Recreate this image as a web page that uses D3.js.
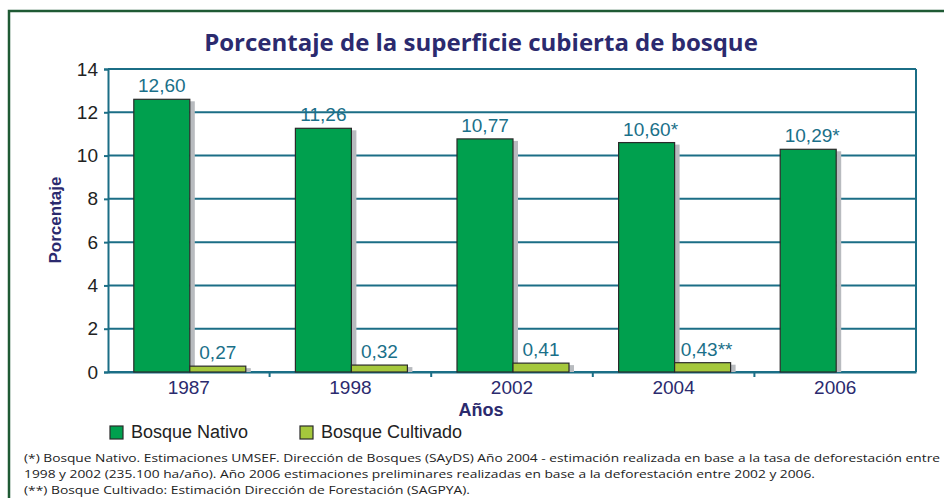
<!DOCTYPE html>
<html>
<head>
<meta charset="utf-8">
<script src="https://cdn.jsdelivr.net/npm/d3@7"></script>
<style>
  body { margin: 0; background: #fff; }
  svg { display: block; }
</style>
</head>
<body>
<div id="chart"></div>
<script>
// chart data
var years = ["1987", "1998", "2002", "2004", "2006"];
var nativo = [12.60, 11.26, 10.77, 10.60, 10.29];
var cultivado = [0.27, 0.32, 0.41, 0.43, null];
var nativoLabels = ["12,60", "11,26", "10,77", "10,60*", "10,29*"];
var cultivadoLabels = ["0,27", "0,32", "0,41", "0,43**", ""];
var yTicks = [0, 2, 4, 6, 8, 10, 12, 14];
var seriesNames = ["Bosque Nativo", "Bosque Cultivado"];
var notes = [
  "(*) Bosque Nativo. Estimaciones UMSEF. Dirección de Bosques (SAyDS) Año 2004 - estimación realizada en base a la tasa de deforestación entre",
  "1998 y 2002 (235.100 ha/año). Año 2006 estimaciones preliminares realizadas en base a la deforestación entre 2002 y 2006.",
  "(**) Bosque Cultivado: Estimación Dirección de Forestación (SAGPYA)."
];

var W = 944, H = 498;
var margin = {top: 69, right: 28, bottom: 126, left: 108};
var w = W - margin.left - margin.right;
var h = H - margin.top - margin.bottom;

var grid = "#1b6e86", navy = "#2b2a6e", teal = "#1a7089";
var colors = ["#00a04e", "#a5c83c"];

var svg = d3.select("#chart").append("svg")
  .attr("width", W).attr("height", H);

// outer frame
svg.append("rect")
  .attr("x", 9).attr("y", 11)
  .attr("width", W).attr("height", H)
  .attr("fill", "none").attr("stroke", "#1f5a34").attr("stroke-width", 2.5);

// title
svg.append("text")
  .attr("x", 481).attr("y", 51)
  .attr("text-anchor", "middle")
  .attr("font-family", "'Open Sans', sans-serif")
  .attr("font-weight", "bold")
  .attr("font-size", 24)
  .attr("fill", navy)
  .text("Porcentaje de la superficie cubierta de bosque");

var g = svg.append("g").attr("transform", "translate(" + margin.left + "," + margin.top + ")");

var x0 = d3.scaleBand().domain(years).range([0, w]);
var y = d3.scaleLinear().domain([0, 14]).range([h, 0]);
var barW = 56;

// gridlines
g.selectAll(".grid").data(yTicks).enter().append("line")
  .attr("x1", 0).attr("x2", w)
  .attr("y1", function(d) { return y(d); })
  .attr("y2", function(d) { return y(d); })
  .attr("stroke", grid).attr("stroke-width", 2);

// right border
g.append("line").attr("x1", w).attr("x2", w).attr("y1", 0).attr("y2", h)
  .attr("stroke", grid).attr("stroke-width", 2);

// y axis
var yAxis = g.append("g").call(d3.axisLeft(y).tickValues(yTicks).tickSize(4).tickPadding(6));
yAxis.select(".domain").attr("stroke", grid).attr("stroke-width", 2);
yAxis.selectAll(".tick line").attr("stroke", grid).attr("stroke-width", 2);
yAxis.selectAll("text")
  .attr("font-family", "Arial, 'Liberation Sans', sans-serif")
  .attr("font-size", 19).attr("fill", "#222");

// x axis
var xAxis = g.append("g").attr("transform", "translate(0," + h + ")")
  .call(d3.axisBottom(x0).tickSize(0).tickPadding(9));
xAxis.select(".domain").attr("stroke", grid).attr("stroke-width", 2);
xAxis.selectAll("text")
  .attr("font-family", "Arial, 'Liberation Sans', sans-serif")
  .attr("font-size", 19).attr("fill", navy);
// band boundary ticks
g.selectAll(".btick").data(years.slice(1)).enter().append("line")
  .attr("x1", function(d) { return x0(d); })
  .attr("x2", function(d) { return x0(d); })
  .attr("y1", h).attr("y2", h + 5)
  .attr("stroke", grid).attr("stroke-width", 2);

// bars
var series = [nativo, cultivado];
var labels = [nativoLabels, cultivadoLabels];
series.forEach(function(vals, s) {
  var items = years.map(function(yr, i) { return {year: yr, v: vals[i], label: labels[s][i]}; })
    .filter(function(d) { return d.v != null; });
  var bx = function(d) { return x0(d.year) + x0.bandwidth() / 2 - barW + s * barW + 1; };

  // shadow
  g.selectAll(".shadow" + s).data(items).enter().append("rect")
    .attr("x", function(d) { return bx(d) + barW; })
    .attr("y", function(d) { return y(d.v) + 2; })
    .attr("width", 5)
    .attr("height", function(d) { return h - y(d.v) - 2; })
    .attr("fill", "#b8bbbf");

  g.selectAll(".bar" + s).data(items).enter().append("rect")
    .attr("x", bx)
    .attr("y", function(d) { return y(d.v); })
    .attr("width", barW)
    .attr("height", function(d) { return h - y(d.v); })
    .attr("fill", colors[s]).attr("stroke", "#2a2a2a").attr("stroke-width", 1.2);

  g.selectAll(".lab" + s).data(items).enter().append("text")
    .attr("x", function(d) { return bx(d) + barW / 2 + (d.label.indexOf("*") > 0 ? 4 : 0); })
    .attr("y", function(d) { return y(d.v) - 7; })
    .attr("text-anchor", "middle")
    .attr("font-family", "Arial, 'Liberation Sans', sans-serif")
    .attr("font-size", 19).attr("fill", teal)
    .text(function(d) { return d.label; });
});

// axis titles
svg.append("text")
  .attr("x", 481).attr("y", 416)
  .attr("text-anchor", "middle")
  .attr("font-family", "Arial, 'Liberation Sans', sans-serif")
  .attr("font-weight", "bold").attr("font-size", 18)
  .attr("fill", navy).text("Años");

svg.append("text")
  .attr("transform", "translate(61,220) rotate(-90)")
  .attr("text-anchor", "middle")
  .attr("font-family", "Arial, 'Liberation Sans', sans-serif")
  .attr("font-weight", "bold").attr("font-size", 17)
  .attr("fill", navy).text("Porcentaje");

// legend
var legX = [110, 300];
var leg = svg.selectAll(".leg").data(seriesNames).enter().append("g")
  .attr("transform", function(d, i) { return "translate(" + legX[i] + ",426)"; });
leg.append("rect").attr("width", 13).attr("height", 13)
  .attr("fill", function(d, i) { return colors[i]; })
  .attr("stroke", "#2a2a2a").attr("stroke-width", 1.2);
leg.append("text").attr("x", 21).attr("y", 12)
  .attr("font-family", "Arial, 'Liberation Sans', sans-serif")
  .attr("font-size", 18).attr("fill", "#222")
  .text(function(d) { return d; });

// footnotes
var noteW = [916, 791, 446];
svg.selectAll(".note").data(notes).enter().append("text")
  .attr("x", 24)
  .attr("y", function(d, i) { return 462 + i * 16; })
  .attr("font-family", "'Open Sans', sans-serif")
  .attr("font-size", 11.5).attr("fill", "#222")
  .attr("textLength", function(d, i) { return noteW[i]; })
  .attr("lengthAdjust", "spacingAndGlyphs")
  .text(function(d) { return d; });
</script>
</body>
</html>
